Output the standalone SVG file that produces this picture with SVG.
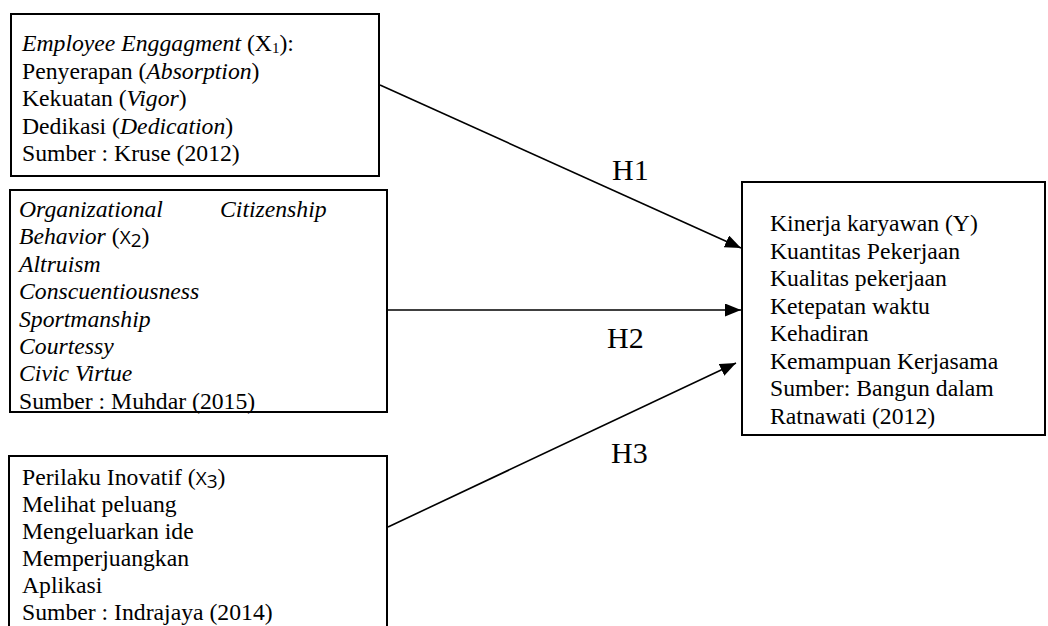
<svg xmlns="http://www.w3.org/2000/svg" width="1048" height="626" viewBox="0 0 1048 626">
<defs>
<style>
.box{fill:#fff;stroke:#000;stroke-width:2}
.t{font-family:"Liberation Serif","Times New Roman",serif;font-size:23.7px;fill:#000}
.i{font-style:italic}
.s{font-family:"Open Sans","Liberation Sans",sans-serif;font-size:19px}
.h{font-family:"Liberation Serif","Times New Roman",serif;font-size:30px;fill:#000}
.c{stroke:#000;stroke-width:1.6;fill:none}
</style>
<marker id="ah" markerUnits="userSpaceOnUse" markerWidth="18" markerHeight="14" refX="16" refY="6.5" orient="auto">
<path d="M0,0 L16,6.5 L0,13 Z" fill="#000"/>
</marker>
</defs>
<rect width="1048" height="626" fill="#fff"/>
<g id="connectors">
<line class="c" x1="380" y1="85" x2="741" y2="248" marker-end="url(#ah)"/>
<line class="c" x1="387" y1="310" x2="741" y2="310" marker-end="url(#ah)"/>
<line class="c" x1="388" y1="527" x2="736" y2="363" marker-end="url(#ah)"/>
<text class="h" x="612" y="180">H1</text>
<text class="h" x="607" y="348">H2</text>
<text class="h" x="611" y="463">H3</text>
</g>
<g id="x1">
<rect class="box" x="11" y="14" width="368" height="162"/>
<text class="t" x="22" y="51"><tspan class="i">Employee Enggagment</tspan> (X<tspan font-size="15" dy="2">1</tspan><tspan dy="-2">):</tspan></text>
<text class="t" x="22" y="78.5">Penyerapan (<tspan class="i">Absorption</tspan>)</text>
<text class="t" x="22" y="106">Kekuatan (<tspan class="i">Vigor</tspan>)</text>
<text class="t" x="22" y="133.5">Dedikasi (<tspan class="i">Dedication</tspan>)</text>
<text class="t" x="22" y="161">Sumber : Kruse (2012)</text>
</g>
<g id="x2">
<rect class="box" x="10" y="190" width="377" height="222"/>
<text class="t i" x="19" y="217">Organizational <tspan x="220">Citizenship</tspan></text>
<text class="t" x="19" y="244.4"><tspan class="i">Behavior</tspan> (<tspan class="s">X</tspan><tspan class="s" font-size="13" dy="3">2</tspan><tspan dy="-3">)</tspan></text>
<text class="t i" x="19" y="271.8">Altruism</text>
<text class="t i" x="19" y="299.2">Conscuentiousness</text>
<text class="t i" x="19" y="326.6">Sportmanship</text>
<text class="t i" x="19" y="354">Courtessy</text>
<text class="t i" x="19" y="381.4">Civic Virtue</text>
<text class="t" x="19" y="408.8">Sumber : Muhdar (2015)</text>
</g>
<g id="x3">
<rect class="box" x="9" y="456" width="378" height="200"/>
<text class="t" x="22" y="485">Perilaku Inovatif (<tspan class="s">X</tspan><tspan class="s" font-size="13" dy="3">3</tspan><tspan dy="-3">)</tspan></text>
<text class="t" x="22" y="512">Melihat peluang</text>
<text class="t" x="22" y="539">Mengeluarkan ide</text>
<text class="t" x="22" y="566">Memperjuangkan</text>
<text class="t" x="22" y="593">Aplikasi</text>
<text class="t" x="22" y="620">Sumber : Indrajaya (2014)</text>
</g>
<g id="y">
<rect class="box" x="742" y="182" width="303" height="253"/>
<text class="t" x="770" y="231">Kinerja karyawan (Y)</text>
<text class="t" x="770" y="258.5">Kuantitas Pekerjaan</text>
<text class="t" x="770" y="286">Kualitas pekerjaan</text>
<text class="t" x="770" y="313.5">Ketepatan waktu</text>
<text class="t" x="770" y="341">Kehadiran</text>
<text class="t" x="770" y="368.5">Kemampuan Kerjasama</text>
<text class="t" x="770" y="396">Sumber: Bangun dalam</text>
<text class="t" x="770" y="423.5">Ratnawati (2012)</text>
</g>
</svg>
